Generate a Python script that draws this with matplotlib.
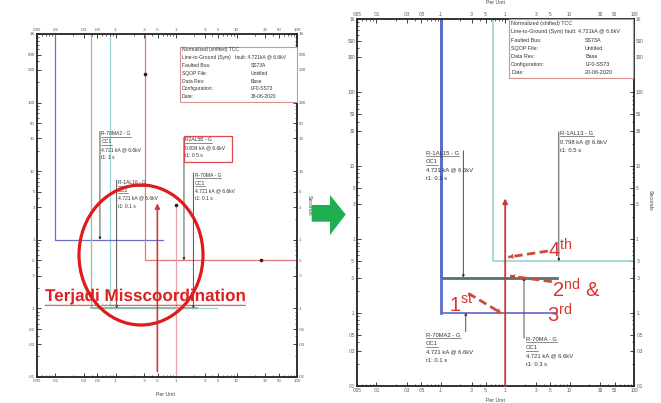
import numpy as np
import matplotlib
matplotlib.use("Agg")
import matplotlib.pyplot as plt
from matplotlib.patches import Rectangle, Ellipse, Polygon
from matplotlib.lines import Line2D
from matplotlib.ticker import FixedLocator, FixedFormatter, LogLocator, NullFormatter
import matplotlib.patheffects as pe

plt.rcParams['font.family'] = ['Liberation Sans', 'DejaVu Sans']
plt.rcParams['mathtext.fontset'] = 'custom'
plt.rcParams['mathtext.rm'] = 'Liberation Sans'
plt.rcParams['mathtext.it'] = 'Liberation Sans:italic'
plt.rcParams['mathtext.bf'] = 'Liberation Sans:bold'

W, H = 661, 403

# ---- axis ticks -------------------------------------------------------
x_ticks = [.005, .01, .03, .05, .1, .3, .5, 1, 3, 5, 10, 30, 50, 100]
x_tick_labels = ['.005', '.01', '.03', '.05', '.1', '.3', '.5', '1', '3', '5',
                 '10', '30', '50', '100']
y_ticks = [.01, .03, .05, .1, .3, .5, 1, 3, 5, 10, 30, 50, 100, 300, 500, 1000]
y_tick_labels = ['.01', '.03', '.05', '.1', '.3', '.5', '1', '3', '5', '10',
                 '30', '50', '100', '300', '500', '1K']

# ---- before: relay curves (per unit, seconds) -------------------------
b_70ma2_pu = [0.01, 0.01, 0.6]
b_70ma2_s = [1000, 1.0, 1.0]
b_1al16_pu = [0.039, 0.039, 2.2]
b_1al16_s = [1000, 0.1, 0.1]
b_70ma_pu = [0.081, 0.081, 4.7]
b_70ma_s = [1000, 0.1, 0.1]
b_2al5b_pu = [0.31, 0.31, 100]
b_2al5b_s = [1000, 0.5, 0.5]
b_2al5b_dot_pu = [0.31, 25]
b_2al5b_dot_s = [261, 0.5]
b_feeder_pu = [1.0, 1.0]
b_feeder_s = [3.2, 0.01]
b_fault_pu = 0.49
b_fault_s = [0.012, 3.4]

# ---- after: relay curves ---------------------------------------------
a_70ma2_pu = [0.1, 0.1, 6.3]
a_70ma2_s = [1000, 0.1, 0.1]
a_70ma_pu = [0.1, 0.1, 6.3]
a_70ma_s = [1000, 0.3, 0.3]
a_1al13_pu = [0.65, 0.65, 100]
a_1al13_s = [1000, 0.5, 0.5]
a_fault_pu = 1.0
a_fault_s = [0.01, 3.6]

# ---- relay labels ------------------------------------------------------
b_labels = [
    (("R-70MA2 - G", "OC1"), ("4.721 kA @ 6.6kV", "t1: 1 s")),
    (("R-1AL16 - G", "OC1"), ("4.721 kA @ 6.6kV", "t1: 0.1 s")),
    (("R2AL5B - G",), ("0.834 kA @ 6.6kV", "t1: 0.5 s")),
    (("R-70MA - G", "OC1"), ("4.721 kA @ 6.6kV", "t1: 0.1 s")),
]
a_labels = [
    (("R-1AL15 - G", "OC1"), ("4.721 kA @ 6.6kV", "t1: 0.3 s")),
    (("R-1AL13 - G",), ("0.798 kA @ 6.6kV", "t1: 0.5 s")),
    (("R-70MA2 - G", "OC1"), ("4.721 kA @ 6.6kV", "t1: 0.1 s")),
    (("R-70MA - G", "OC1"), ("4.721 kA @ 6.6kV", "t1: 0.3 s")),
]

info_keys = ["Faulted Bus:", "SQOP File:", "Data Rev:", "Configuration:", "Date:"]
b_info_vals = ["SS73A", "Untitled", "Base", "LF0-SS73", "18-06-2020"]
a_info_vals = ["SS73A", "Untitled", "Base", "LF0-SS73", "20-06-2020"]

fig = plt.figure(figsize=(W / 100, H / 100), dpi=100)
fig.patch.set_facecolor('white')


def fx(px):
    return px / W


def fy(py):
    return 1 - py / H


def tcc_axes(x0, y0, x1, y1, lsize):
    ax = fig.add_axes([fx(x0), fy(y1), fx(x1) - fx(x0), fy(y0) - fy(y1)])
    ax.set_xscale('log')
    ax.set_yscale('log')
    ax.set_xlim(0.005, 100)
    ax.set_ylim(0.01, 1000)
    ax.xaxis.set_major_locator(FixedLocator(x_ticks))
    ax.xaxis.set_major_formatter(FixedFormatter(x_tick_labels))
    ax.yaxis.set_major_locator(FixedLocator(y_ticks))
    ax.yaxis.set_major_formatter(FixedFormatter(y_tick_labels))
    ax.xaxis.set_minor_locator(LogLocator(base=10, subs=np.arange(2, 10)))
    ax.yaxis.set_minor_locator(LogLocator(base=10, subs=np.arange(2, 10)))
    ax.xaxis.set_minor_formatter(NullFormatter())
    ax.yaxis.set_minor_formatter(NullFormatter())
    ax.tick_params(which='both', direction='in', top=True, right=True,
                   labeltop=True, labelright=True, labelsize=lsize,
                   labelcolor='#555555', color='#222222', pad=1.5)
    ax.tick_params(which='major', length=3, width=0.6)
    ax.tick_params(which='minor', length=1.6, width=0.5)
    for s in ax.spines.values():
        s.set_linewidth(1.3)
        s.set_color('#222222')
    return ax


def leader(ax, x, t0, t1):
    ax.annotate('', xy=(x, t1), xytext=(x, t0),
                arrowprops=dict(arrowstyle='-|>', lw=0.6, color='#333333',
                                mutation_scale=3.5, shrinkA=0, shrinkB=0))


underlined = []


def relay_label(ax, x, t, lbl, fs, step):
    heads, body = lbl
    lines = list(heads) + list(body)
    for i, line in enumerate(lines):
        txt = ax.annotate(line, xy=(x, t), xycoords='data',
                          xytext=(0, -i * step), textcoords='offset points',
                          fontsize=fs, color='#333333', va='top', ha='left',
                          zorder=6)
        if i < len(heads):
            underlined.append(txt)


# ====================== before ======================
axL = tcc_axes(37, 34, 297, 377, 3.2)
axL.plot(b_70ma2_pu, b_70ma2_s, color='#6d70c9', lw=0.9)
axL.plot(b_1al16_pu, b_1al16_s, color='#86c2ae', lw=0.9)
axL.plot(b_70ma_pu, b_70ma_s, color='#9ad6d6', lw=0.9, zorder=1.5)
axL.plot([b_1al16_pu[1], b_1al16_pu[2]], [b_1al16_s[1], b_1al16_s[2]],
         color='#5fae6e', lw=1.1, zorder=1.8)
axL.plot(b_2al5b_pu, b_2al5b_s, color='#e27a7a', lw=0.9)
axL.plot(b_2al5b_dot_pu, b_2al5b_dot_s, 'o', color='#222222', ms=1.6)
axL.plot(b_feeder_pu, b_feeder_s, color='#eba3aa', lw=0.9)
axL.plot(b_feeder_pu[:1], b_feeder_s[:1], 'o', color='#222222', ms=1.6)
axL.annotate('', xy=(b_fault_pu, b_fault_s[1]), xytext=(b_fault_pu, b_fault_s[0]),
             arrowprops=dict(arrowstyle='-|>', lw=1.2, color='#cc3a3a',
                             mutation_scale=7, shrinkA=0, shrinkB=0))

leader(axL, 0.055, 38, 1.0)
leader(axL, 0.104, 7.4, 0.1)
leader(axL, 1.35, 31, 0.5)
leader(axL, 1.93, 9.4, 0.1)
relay_label(axL, 0.058, 38, b_labels[0], 3.6, 5.6)
relay_label(axL, 0.109, 7.4, b_labels[1], 3.6, 5.6)
relay_label(axL, 1.43, 31, b_labels[2], 3.6, 5.6)
relay_label(axL, 2.05, 9.4, b_labels[3], 3.6, 5.6)
fig.add_artist(Rectangle((fx(184), fy(162)), fx(232) - fx(184), fy(136) - fy(162),
                         transform=fig.transFigure, fill=False,
                         ec='#dd4b4b', lw=0.9, zorder=7))

# info box
fig.add_artist(Rectangle((fx(180), fy(101.7)), fx(297) - fx(180), fy(46.7) - fy(101.7),
                         transform=fig.transFigure, fc='white',
                         ec='#d99090', lw=0.8, zorder=7))
fig.text(fx(181.7), fy(50), "Normalized (shifted) TCC", fontsize=3.6,
         color='#333333', va='center', zorder=8)
fig.text(fx(181.7), fy(57.5), "Line-to-Ground (Sym)   fault: 4.721kA @ 6.6kV",
         fontsize=3.6, color='#333333', va='center', zorder=8)
for i, (k, v) in enumerate(zip(info_keys, b_info_vals)):
    yy = 65.5 + i * 7.8
    fig.text(fx(181.7), fy(yy), k, fontsize=3.6, color='#333333', va='center', zorder=8)
    fig.text(fx(250.7), fy(yy), v, fontsize=3.6, color='#333333', va='center', zorder=8)

fig.text(fx(166), fy(394), "Per Unit", fontsize=3.8, color='#444444',
         ha='center', va='center')
fig.text(fx(309), fy(205), "Seconds", fontsize=3.8, color='#444444',
         ha='center', va='center', rotation=270, zorder=11)

# ====================== after ======================
axR = tcc_axes(357, 19, 634, 386, 3.3)
axR.plot(a_70ma_pu, a_70ma_s, color='#4f7472', lw=2.0)
axR.plot(a_70ma2_pu[:2], a_70ma2_s[:2], color='#5b6bd2', lw=2.0)
axR.plot(a_70ma2_pu[1:], a_70ma2_s[1:], color='#6c72cf', lw=1.3)
axR.plot(a_1al13_pu, a_1al13_s, color='#8fd0d0', lw=1.1)
axR.annotate('', xy=(a_fault_pu, a_fault_s[1]), xytext=(a_fault_pu, a_fault_s[0]),
             arrowprops=dict(arrowstyle='-|>', lw=1.3, color='#c53a32',
                             mutation_scale=7, shrinkA=0, shrinkB=0))

leader(axR, 0.224, 16, 0.3)
leader(axR, 6.8, 29, 0.5)
leader(axR, 0.244, 0.055, 0.1)
leader(axR, 1.96, 0.045, 0.3)
relay_label(axR, 0.059, 16, a_labels[0], 4.2, 6.1)
relay_label(axR, 7.2, 30, a_labels[1], 4.2, 6.1)
relay_label(axR, 0.059, 0.053, a_labels[2], 4.2, 6.1)
relay_label(axR, 2.08, 0.047, a_labels[3], 4.2, 6.1)

fig.add_artist(Rectangle((fx(509), fy(78)), fx(633) - fx(509), fy(19) - fy(78),
                         transform=fig.transFigure, fc='white',
                         ec='#d99090', lw=0.8, zorder=7))
fig.text(fx(511), fy(23), "Normalized (shifted) TCC", fontsize=3.9,
         color='#333333', va='center', zorder=8)
fig.text(fx(511), fy(31.5), "Line-to-Ground (Sym) fault: 4.721kA @ 6.6kV",
         fontsize=3.9, color='#333333', va='center', zorder=8)
for i, (k, v) in enumerate(zip(info_keys, a_info_vals)):
    yy = 40 + i * 8.2
    fig.text(fx(511), fy(yy), k, fontsize=3.9, color='#333333', va='center', zorder=8)
    fig.text(fx(585), fy(yy), v, fontsize=3.9, color='#333333', va='center', zorder=8)

fig.text(fx(496), fy(2), "Per Unit", fontsize=3.8, color='#444444',
         ha='center', va='center')
fig.text(fx(496), fy(401), "Per Unit", fontsize=3.8, color='#444444',
         ha='center', va='center')
fig.text(fx(650), fy(200), "Seconds", fontsize=3.8, color='#444444',
         ha='center', va='center', rotation=270)

# ---- coordination order callouts -------------------------------------
red = '#d9342f'


def dashed_arrow(ax, start, end):
    ax.plot([start[0], end[0]], [start[1], end[1]], color='#c94a3f', lw=2.0,
            ls=(0, (3, 1.6)), zorder=8, solid_capstyle='butt')
    ax.annotate('', xy=end, xytext=start,
                arrowprops=dict(arrowstyle='-|>', lw=0, color='#c94a3f',
                                mutation_scale=9, shrinkA=0, shrinkB=0),
                zorder=8)


dashed_arrow(axR, (4.6, 0.69), (1.12, 0.57))
dashed_arrow(axR, (5.3, 0.264), (1.19, 0.315))
dashed_arrow(axR, (0.267, 0.183), (0.88, 0.098))

for txt, px, py in [(r'$\mathrm{4^{th}}$', 548.3, 257.7),
                    (r'$\mathrm{2^{nd}}$ &', 551.7, 297.3),
                    (r'$\mathrm{3^{rd}}$', 546.7, 322.3),
                    (r'$\mathrm{1^{st}}$', 449.3, 311.7)]:
    fig.text(fx(px), fy(py), txt, fontsize=14.5, color=red,
             ha='left', va='baseline', zorder=9)

# ---- miscoordination note on the left chart ---------------------------
fig.add_artist(Ellipse((fx(141), fy(255)), 124 / W, 140 / H,
                       transform=fig.transFigure, fill=False,
                       ec='#e01b1b', lw=2.3, zorder=9))
note = fig.text(fx(45), fy(301), "Terjadi Misscoordination", fontsize=12.3,
                fontweight='bold', color='#dd2020', ha='left', va='baseline',
                zorder=10,
                path_effects=[pe.SimpleLineShadow(offset=(0.8, -0.8),
                                                  shadow_color='#888888', alpha=0.5),
                              pe.Normal()])

# ---- transition arrow --------------------------------------------------
arrow_px = [(311.7, 205), (330, 205), (330, 195), (345.7, 214.5), (330, 235),
            (330, 221.7), (311.7, 221.7)]
fig.add_artist(Polygon([(fx(a), fy(b)) for a, b in arrow_px], closed=True,
                       transform=fig.transFigure, fc='#1eb04e', ec='none',
                       zorder=10))

# ---- underlines and squiggles (need rendered text extents) -----------
fig.canvas.draw()
renderer = fig.canvas.get_renderer()
inv = fig.transFigure.inverted()
for t in underlined:
    bb = t.get_window_extent(renderer)
    (x0, y0), (x1, _) = inv.transform([(bb.x0, bb.y0), (bb.x1, bb.y1)])
    fig.add_artist(Line2D([x0, x1], [y0 - 0.4 / H, y0 - 0.4 / H],
                          transform=fig.transFigure, color='#333333', lw=0.4,
                          zorder=7))

bb = note.get_window_extent(renderer)
word_split = bb.x0 + (bb.x1 - bb.x0) * 0.27
for a, b in [(bb.x0, word_split - 3), (word_split + 2, bb.x1)]:
    xs = np.arange(a, b, 1.5)
    ys = bb.y0 - 1.8 + 0.9 * (np.arange(len(xs)) % 2)
    pts = inv.transform(np.column_stack([xs, ys]))
    fig.add_artist(Line2D(pts[:, 0], pts[:, 1], transform=fig.transFigure,
                          color='#e03030', lw=0.6, zorder=10))

fig.savefig('out.png', dpi=100)
